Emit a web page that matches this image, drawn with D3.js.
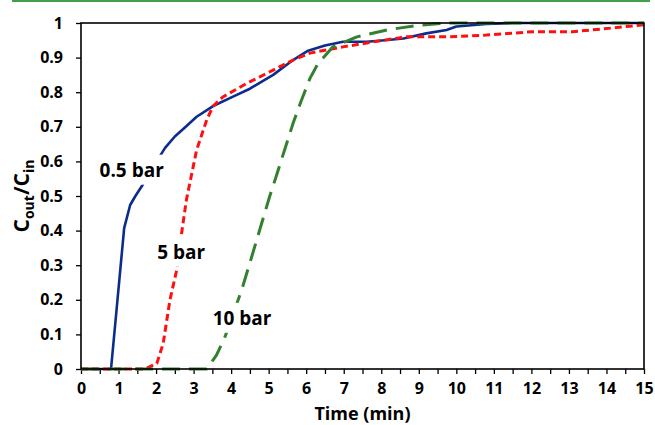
<!DOCTYPE html>
<html>
<head>
<meta charset="utf-8">
<script src="https://cdn.jsdelivr.net/npm/d3@7"></script>
<style>
  body { margin: 0; background: #fff; }
  svg { display: block; font-family: "Open Sans", Lato, sans-serif; font-weight: bold; }
</style>
</head>
<body>
<svg width="655" height="425"></svg>
<script>
// breakthrough curves
var blueT = [0, 0.8, 1.15, 1.31, 1.45, 1.64, 1.9, 2.24, 2.5, 2.82, 3.08, 3.52, 4.05, 4.5, 5.12, 5.65, 6.05, 6.5, 6.98, 7.61, 8.1, 8.59, 9.2, 9.74, 10.0, 10.8, 11.5, 12, 13, 14, 15];
var blueV = [0, 0, 0.407, 0.474, 0.5, 0.532, 0.58, 0.639, 0.672, 0.703, 0.729, 0.76, 0.787, 0.81, 0.85, 0.893, 0.92, 0.935, 0.946, 0.946, 0.95, 0.955, 0.97, 0.98, 0.99, 0.997, 1, 1, 1, 1, 1];

var redT = [0, 1.71, 2.02, 2.19, 2.37, 2.55, 2.68, 2.81, 3.08, 3.35, 3.52, 3.79, 4.41, 5.12, 5.65, 6.1, 6.98, 8.05, 8.68, 9.83, 10.8, 12.05, 13.1, 13.83, 15];
var redV = [0, 0, 0.016, 0.074, 0.2, 0.286, 0.392, 0.49, 0.633, 0.72, 0.76, 0.787, 0.825, 0.864, 0.893, 0.913, 0.931, 0.95, 0.96, 0.96, 0.965, 0.975, 0.975, 0.982, 0.995];

var greenT = [0, 3.35, 3.61, 3.84, 4.28, 4.55, 5.03, 5.21, 5.65, 5.85, 6.1, 6.3, 6.7, 7.35, 8.15, 9.03, 9.8, 15];
var greenV = [0, 0, 0.04, 0.094, 0.228, 0.325, 0.5, 0.56, 0.71, 0.77, 0.84, 0.88, 0.93, 0.96, 0.98, 0.994, 1, 1];

var xTicks = d3.range(0, 15.01, 1);
var xMinor = d3.range(0, 15.01, 0.5);
var yTicks = [0, 0.1, 0.2, 0.3, 0.4, 0.5, 0.6, 0.7, 0.8, 0.9, 1];

var svg = d3.select("svg"),
    width = +svg.attr("width"),
    height = +svg.attr("height");

var x = d3.scaleLinear().domain([0, 15]).range([81, 644]);
var y = d3.scaleLinear().domain([0, 1]).range([369, 23]);

// green rule at the very top
svg.append("line")
    .attr("x1", 12).attr("x2", 650)
    .attr("y1", 1).attr("y2", 1)
    .attr("stroke", "#3f9f4a").attr("stroke-width", 2);

// axes
svg.append("g")
    .attr("transform", "translate(0,369)")
    .call(d3.axisBottom(x).tickValues(xMinor).tickSize(5).tickFormat(""))
    .call(g => g.select(".domain").remove())
    .selectAll("line").attr("stroke", "#000").attr("stroke-width", 1.3);

svg.append("g")
    .attr("transform", "translate(0,369)")
    .call(d3.axisBottom(x).tickValues(xTicks).tickSize(0).tickPadding(14).tickFormat(d3.format("d")))
    .call(g => g.select(".domain").remove())
    .selectAll("text").attr("fill", "#000").style("font-size", "16px").style("font-weight", "bold")
    .style("font-family", "\"Open Sans\", sans-serif");

svg.append("g")
    .attr("transform", "translate(81,0)")
    .call(d3.axisLeft(y).tickValues(yTicks).tickSize(5).tickPadding(13).tickFormat(d => d === 0 || d === 1 ? d3.format("d")(d) : d3.format(".1f")(d)))
    .call(g => g.select(".domain").remove())
    .call(g => g.selectAll("line").attr("stroke", "#000").attr("stroke-width", 1.3))
    .selectAll("text").attr("fill", "#000").style("font-size", "16px").style("font-weight", "bold")
    .style("font-family", "\"Open Sans\", sans-serif");

var line = d3.line()
    .x(d => x(d[0]))
    .y(d => y(d[1]));

var series = [
  { t: blueT, v: blueV, color: "#0a2c8c", width: 2.6, dash: null },
  { t: redT, v: redV, color: "#ff0f0f", width: 3, dash: "7,4" },
  { t: greenT, v: greenV, color: "#33802e", width: 3, dash: "18,9" }
];

svg.append("g").selectAll("path")
  .data(series)
  .join("path")
    .attr("d", s => line(s.t.map((t, i) => [t, s.v[i]])))
    .attr("fill", "none")
    .attr("stroke", s => s.color)
    .attr("stroke-width", s => s.width)
    .attr("stroke-linejoin", "round")
    .attr("stroke-dasharray", s => s.dash);

// frame
svg.append("rect")
    .attr("x", 81).attr("y", 23)
    .attr("width", 563).attr("height", 346)
    .attr("fill", "none")
    .attr("stroke", "#000").attr("stroke-width", 1.6);

// series labels, with white boxes that hide the curve behind them
var labels = [
  { text: "0.5 bar", t: 1.35, v: 0.575 },
  { text: "5 bar", t: 2.67, v: 0.338 },
  { text: "10 bar", t: 4.29, v: 0.147 }
];

var lab = svg.append("g").selectAll("g")
  .data(labels)
  .join("g")
    .attr("transform", d => "translate(" + x(d.t) + "," + y(d.v) + ")");

lab.append("text")
    .attr("text-anchor", "middle")
    .attr("dy", "0.35em")
    .style("font-size", "19px")
    .text(d => d.text)
    .each(function() {
      var b = this.getBBox();
      d3.select(this.parentNode).insert("rect", "text")
        .attr("x", b.x - 3).attr("y", b.y - 2)
        .attr("width", b.width + 6).attr("height", b.height + 4)
        .attr("fill", "#fff");
    });

// axis titles
svg.append("text")
    .attr("x", x(7.5)).attr("y", 420)
    .attr("text-anchor", "middle")
    .style("font-size", "18px")
    .text("Time (min)");

var yt = svg.append("text")
    .attr("transform", "translate(29,196) rotate(-90)")
    .attr("text-anchor", "middle")
    .style("font-size", "21px");
yt.append("tspan").text("C");
yt.append("tspan").attr("dy", 5).style("font-size", "14px").text("out");
yt.append("tspan").attr("dy", -5).text("/C");
yt.append("tspan").attr("dy", 5).style("font-size", "14px").text("in");
</script>
</body>
</html>
